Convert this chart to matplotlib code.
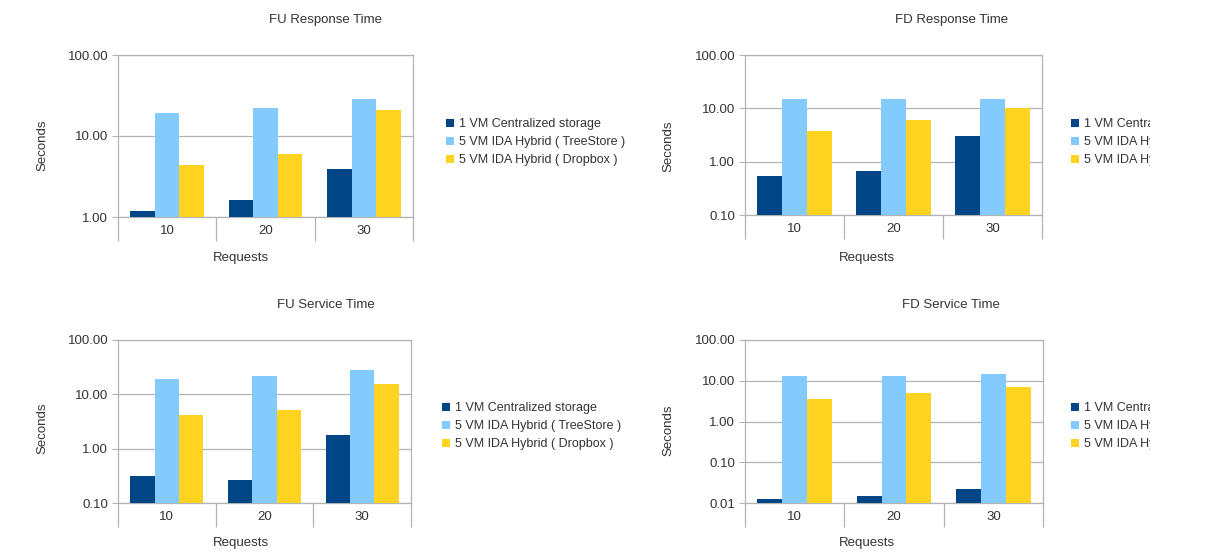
import matplotlib
matplotlib.use("Agg")
import matplotlib.pyplot as plt
import numpy as np
from matplotlib.patches import Rectangle
from matplotlib.ticker import FixedLocator, FixedFormatter, NullLocator

plt.rcParams['font.family'] = ['Liberation Sans', 'DejaVu Sans']

W, H = 1231, 554

requests = ["10", "20", "30"]
series = ["1 VM Centralized storage", "5 VM IDA Hybrid ( TreeStore )", "5 VM IDA Hybrid ( Dropbox )"]
colors = ["#004586", "#83caff", "#ffd320"]

# FU Response Time
fu_resp_central = [1.18, 1.6, 3.9]
fu_resp_tree = [19.0, 22.2, 28.9]
fu_resp_dropbox = [4.4, 6.0, 20.8]

# FD Response Time
fd_resp_central = [0.53, 0.67, 3.05]
fd_resp_tree = [15.1, 15.1, 15.1]
fd_resp_dropbox = [3.7, 6.1, 10.0]

# FU Service Time
fu_serv_central = [0.32, 0.26, 1.76]
fu_serv_tree = [19.1, 21.4, 28.4]
fu_serv_dropbox = [4.2, 5.2, 15.5]

# FD Service Time
fd_serv_central = [0.0128, 0.0151, 0.022]
fd_serv_tree = [13.1, 13.1, 15.0]
fd_serv_dropbox = [3.5, 5.1, 6.9]

fig = plt.figure(figsize=(W / 100, H / 100), dpi=100)
fig.patch.set_facecolor("white")

txt = "#333333"
grid = "#b3b3b3"
fs = 9.5


def panel(rect_px, title, vals, ymin, title_xy, ylab_xy, xlab_xy, leg_xy):
    l, r, t, b = rect_px
    ax = fig.add_axes([l / W, 1 - b / H, (r - l) / W, (b - t) / H])
    x = np.arange(len(requests))
    w = 0.25
    for i, v in enumerate(vals):
        ax.bar(x + (i - 1) * w, v, w, color=colors[i], label=series[i], zorder=3)
    ax.set_yscale("log")
    ax.set_ylim(ymin, 100)
    ax.set_xlim(-0.5, 2.5)
    dec = [10.0 ** k for k in range(int(round(np.log10(ymin))), 3)]
    ax.yaxis.set_major_locator(FixedLocator(dec))
    ax.yaxis.set_major_formatter(FixedFormatter(["%.2f" % d for d in dec]))
    ax.yaxis.set_minor_locator(NullLocator())
    ax.grid(axis="y", color=grid, linewidth=0.9, zorder=0)
    ax.set_xticks(x)
    ax.set_xticklabels(requests)
    ax.set_xticks([-0.5, 0.5, 1.5, 2.5], minor=True)
    ax.tick_params(axis="x", which="major", length=0, pad=6, labelsize=fs, labelcolor=txt)
    ax.tick_params(axis="x", which="minor", length=17, color=grid, width=0.9)
    ax.tick_params(axis="y", which="major", length=4, color=grid, labelsize=fs, labelcolor=txt, pad=3)
    for s in ax.spines.values():
        s.set_color(grid)
        s.set_linewidth(0.9)
    fig.text(title_xy[0] / W, 1 - title_xy[1] / H, title, ha="center", va="center", fontsize=fs, color=txt)
    fig.text(ylab_xy[0] / W, 1 - ylab_xy[1] / H, "Seconds", ha="center", va="center", rotation=90,
             fontsize=fs, color=txt)
    fig.text(xlab_xy[0] / W, 1 - xlab_xy[1] / H, "Requests", ha="center", va="center", fontsize=fs, color=txt)
    ax.legend(loc="center left", bbox_to_anchor=(leg_xy[0] / W, 1 - leg_xy[1] / H),
              bbox_transform=fig.transFigure, frameon=False, fontsize=9, labelcolor=txt,
              handlelength=0.6, handleheight=0.6, handletextpad=0.45, labelspacing=0.48,
              borderpad=0, borderaxespad=0)
    return ax


panel((118, 413, 55, 217), "FU Response Time",
      [fu_resp_central, fu_resp_tree, fu_resp_dropbox], 1,
      (326, 20), (42, 145), (241, 258), (446, 142))
panel((745, 1042, 55, 215), "FD Response Time",
      [fd_resp_central, fd_resp_tree, fd_resp_dropbox], 0.1,
      (952, 20), (668, 146), (867, 258), (1071, 142))
panel((118, 411, 340, 503), "FU Service Time",
      [fu_serv_central, fu_serv_tree, fu_serv_dropbox], 0.1,
      (326, 305), (42, 428), (241, 543), (442, 426))
panel((745, 1043, 340, 503), "FD Service Time",
      [fd_serv_central, fd_serv_tree, fd_serv_dropbox], 0.01,
      (951, 305), (668, 430), (867, 543), (1071, 426))

# the source picture is cut off on the right
fig.add_artist(Rectangle((1150 / W, 0), 1 - 1150 / W, 1, transform=fig.transFigure,
                         facecolor="white", edgecolor="none", zorder=10))

fig.savefig("out.png", dpi=100)
